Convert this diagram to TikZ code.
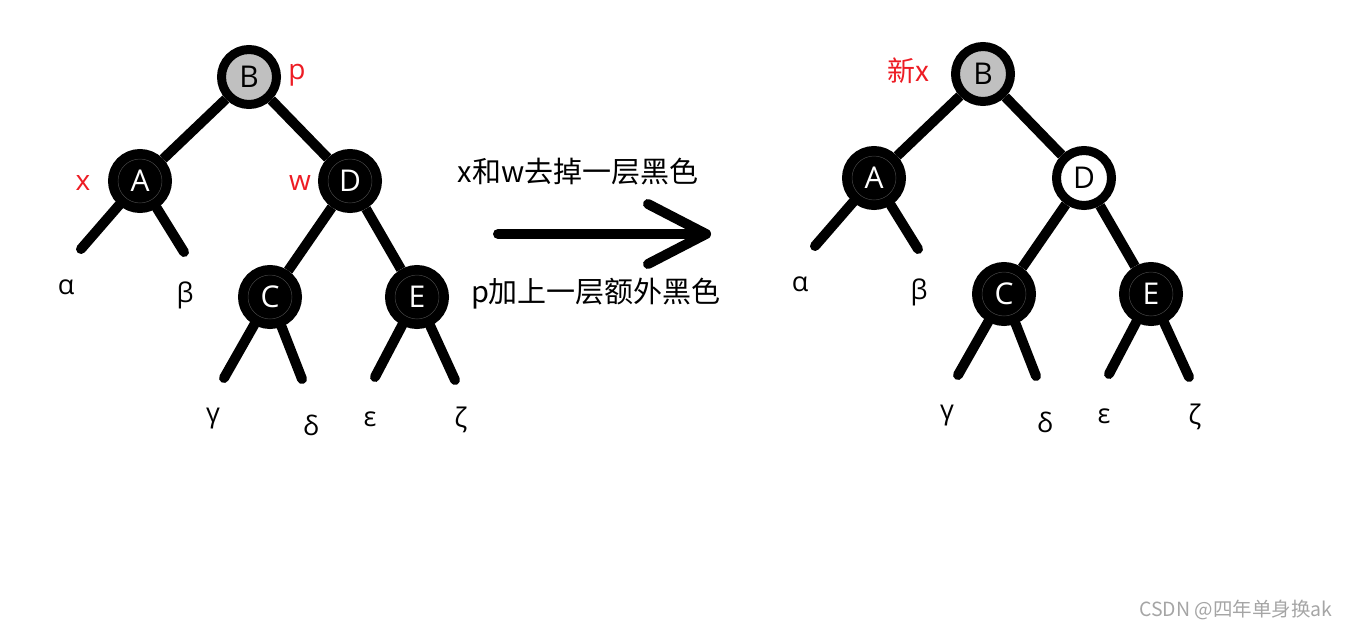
\documentclass[tikz,border=0pt]{standalone}
\usepackage{fontspec}
\setmainfont{Open Sans}
\newfontfamily\cjk{Noto Sans CJK SC}
\definecolor{tagred}{RGB}{237,28,36}
\definecolor{rootgray}{RGB}{192,192,192}
\definecolor{markgray}{RGB}{165,165,165}
\definecolor{ringgray}{RGB}{70,70,70}
\tikzset{
  rbnode/.style={circle, draw=black, line width=9pt, minimum size=55pt, inner sep=0pt,
                 font=\fontsize{30}{30}\selectfont},
  blacknode/.style={rbnode, fill=black, text=white,
                    path picture={\draw[ringgray, line width=0.5pt] (path picture bounding box.center) circle (22pt);}},
  graynode/.style={rbnode, fill=rootgray},
  whitenode/.style={rbnode, fill=white},
  link/.style={line width=10pt},
  stub/.style={line width=10pt, line cap=round},
  leaf/.style={font=\fontsize{27}{27}\selectfont},
  tag/.style={text=tagred, font=\fontsize{28}{28}\selectfont},
  note/.style={font=\cjk\fontsize{29}{29}\selectfont}
}
\begin{document}
\begin{tikzpicture}[x=1pt, y=-1pt]
    \useasboundingbox (0,0) rectangle (1350,629);

    % left tree
    \node[graynode]  (lB) at (249,77)  {B};
    \node[blacknode] (lA) at (140,181) {A};
    \node[blacknode] (lD) at (350,181) {D};
    \node[blacknode] (lC) at (270,297) {C};
    \node[blacknode] (lE) at (417,297) {E};

    % right tree
    \node[graynode]  (rB) at (983,74)  {B};
    \node[blacknode] (rA) at (874,178) {A};
    \node[whitenode] (rD) at (1084,178) {D};
    \node[blacknode] (rC) at (1004,294) {C};
    \node[blacknode] (rE) at (1151,294) {E};

    \foreach \t/\dx/\dy in {l/0/0, r/734/-3}{
        \coordinate (\t a) at (81+\dx,249+\dy);
        \coordinate (\t b) at (184+\dx,252+\dy);
        \coordinate (\t g) at (224+\dx,378+\dy);
        \coordinate (\t d) at (302+\dx,379+\dy);
        \coordinate (\t e) at (375+\dx,377+\dy);
        \coordinate (\t z) at (455+\dx,380+\dy);

        \node[leaf] (\t alpha) at (66+\dx,287+\dy)  {α};
        \node[leaf] (\t beta)  at (185+\dx,295+\dy) {β};
        \node[leaf] (\t gamma) at (213+\dx,419+\dy) {γ};
        \node[leaf] (\t delta) at (311+\dx,425+\dy) {δ};
        \node[leaf] (\t eps)   at (370+\dx,419+\dy) {ε};
        \node[leaf] (\t zeta)  at (461+\dx,420+\dy) {ζ};

        \foreach \i/\j in {B/A,B/D,D/C,D/E}{
            \draw[link] (\t\i) -- (\t\j);
        }
        \foreach \i/\j in {A/a,A/b,C/g,C/d,E/e,E/z}{
            \draw[stub] (\t\i) -- (\t\j);
        }
    }

    % red tags
    \node[tag] (tp) at (297,75)  {p};
    \node[tag] (tx) at (83,183)  {x};
    \node[tag] (tw) at (300,183) {w};
    \node[tag, font=\cjk\fontsize{28}{28}\selectfont] (tnx) at (908,71) {新x};

    % arrow
    \coordinate (tail) at (498,234);
    \coordinate (tip)  at (706,234);
    \coordinate (h1)   at (648,204);
    \coordinate (h2)   at (648,264);
    \draw[stub] (tail) -- (tip);
    \draw[stub, line join=round] (h1) -- (tip) -- (h2);

    \node[note] (up)   at (578,172) {x和w去掉一层黑色};
    \node[note] (down) at (596,294) {p加上一层额外黑色};

    \node[anchor=east, text=markgray, font=\cjk\fontsize{19.5}{19.5}\selectfont] (mark) at (1336,610) {CSDN @四年单身换ak};
\end{tikzpicture}
\end{document}
